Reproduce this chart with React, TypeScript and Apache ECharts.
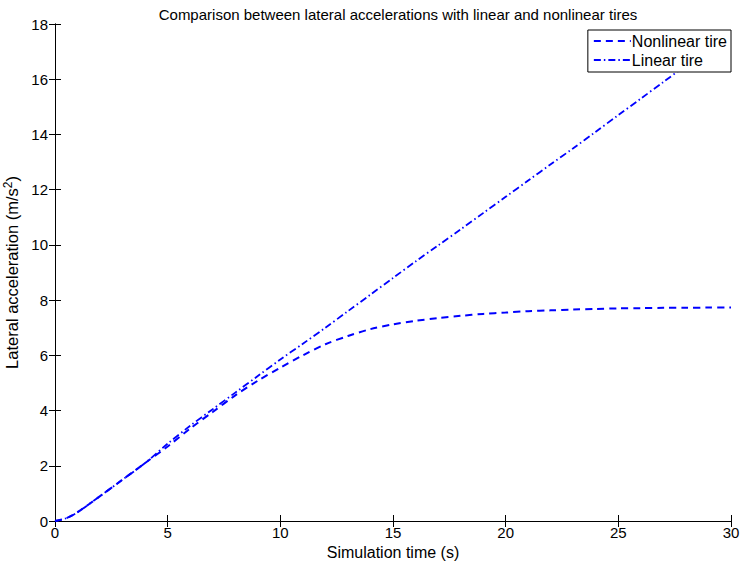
import React, { useEffect, useRef } from "react";
import * as echarts from "echarts";

const timeValues = [0, 0.5, 1, 2, 3, 4, 5, 6, 7, 8, 9, 10, 11, 12, 13, 14, 15, 16, 17, 18, 19, 20, 21, 22, 23, 24, 25, 26, 27, 28, 29, 30];
const nonlinearValues = [0, 0.1, 0.32, 0.9, 1.5, 2.1, 2.7, 3.35, 3.95, 4.55, 5.08, 5.55, 6.0, 6.4, 6.7, 6.95, 7.12, 7.25, 7.35, 7.43, 7.5, 7.55, 7.6, 7.63, 7.66, 7.68, 7.7, 7.71, 7.72, 7.72, 7.73, 7.73];
const linearValues = [0, 0.1, 0.32, 0.9, 1.5, 2.1, 2.8, 3.45, 4.05, 4.65, 5.25, 5.85, 6.42, 7.0, 7.6, 8.2, 8.8, 9.4, 9.98, 10.56, 11.15, 11.74, 12.33, 12.92, 13.5, 14.1, 14.7, 15.3, 15.9, 16.5, 17.08, 17.66];
const xTicks = { min: 0, max: 30, interval: 5 };
const yTicks = { min: 0, max: 18, interval: 2 };

const FONT = "Liberation Sans, Arial, Helvetica, sans-serif";

export default function App() {
  const ref = useRef<HTMLDivElement>(null);
  useEffect(() => {
    if (!ref.current) return;
    const chart = echarts.init(ref.current, undefined, { renderer: "svg" });
    const axisCommon = {
      axisLine: { show: true, lineStyle: { color: "#000", width: 1 } },
      axisTick: { show: true, inside: true, length: 6, lineStyle: { color: "#000" } },
      splitLine: { show: false },
    };
    chart.setOption({
      animation: false,
      backgroundColor: "#fff",
      textStyle: { fontFamily: FONT },
      title: {
        text: "Comparison between lateral accelerations with linear and nonlinear tires",
        left: 393,
        textAlign: "center",
        top: 2,
        textStyle: { fontSize: 15, fontWeight: "normal", color: "#000", fontFamily: FONT },
      },
      grid: { left: 55, right: 13, top: 24, bottom: 45, outerBoundsMode: "none", containLabel: false },
      legend: {
        right: 13,
        top: 30,
        orient: "vertical",
        backgroundColor: "#fff",
        borderColor: "#000",
        borderWidth: 1,
        borderRadius: 0,
        padding: [3, 4, 4, 5],
        itemGap: 3,
        itemWidth: 37,
        itemHeight: 16,
        itemStyle: { opacity: 0 },
        textStyle: { fontSize: 16, color: "#000", fontFamily: FONT, padding: [0, 0, 0, -4] },
        data: ["Nonlinear tire", "Linear tire"],
        z: 10,
      },
      xAxis: [
        {
          type: "value",
          ...xTicks,
          name: "Simulation time (s)",
          nameLocation: "middle",
          nameGap: 23,
          nameTextStyle: { fontSize: 16, color: "#000", fontFamily: FONT },
          axisLabel: { fontSize: 15, color: "#000", fontFamily: FONT, margin: 4 },
          ...axisCommon,
        },
        {
          type: "value",
          ...xTicks,
          position: "top",
          axisLabel: { show: false },
          ...axisCommon,
        },
      ],
      yAxis: [
        {
          type: "value",
          ...yTicks,
          name: "Lateral acceleration (m/s{sup|2})",
          nameLocation: "middle",
          nameGap: 27,
          nameTextStyle: {
            fontSize: 16.5,
            color: "#000",
            fontFamily: FONT,
            rich: { sup: { fontSize: 12, verticalAlign: "top", padding: [0, 0, 8, 0], color: "#000", fontFamily: FONT } },
          },
          axisLabel: { fontSize: 15, color: "#000", fontFamily: FONT, margin: 7 },
          ...axisCommon,
        },
        {
          type: "value",
          ...yTicks,
          position: "right",
          axisLabel: { show: false },
          ...axisCommon,
        },
      ],
      series: [
        {
          name: "Nonlinear tire",
          type: "line",
          data: timeValues.map((t, i) => [t, nonlinearValues[i]]),
          symbol: "none",
          smooth: 0.3,
          color: "#0000ff",
          lineStyle: { color: "#0000ff", width: 2, type: [7, 5] },
          z: 3,
        },
        {
          name: "Linear tire",
          type: "line",
          data: timeValues.map((t, i) => [t, linearValues[i]]),
          symbol: "none",
          smooth: 0.3,
          color: "#0000ff",
          lineStyle: { color: "#0000ff", width: 1.8, type: [7, 3, 1.5, 3] },
          z: 2,
        },
      ],
    });
    return () => chart.dispose();
  }, []);
  return <div ref={ref} style={{ width: 744, height: 566, position: "absolute", left: 0, top: 0 }} />;
}
